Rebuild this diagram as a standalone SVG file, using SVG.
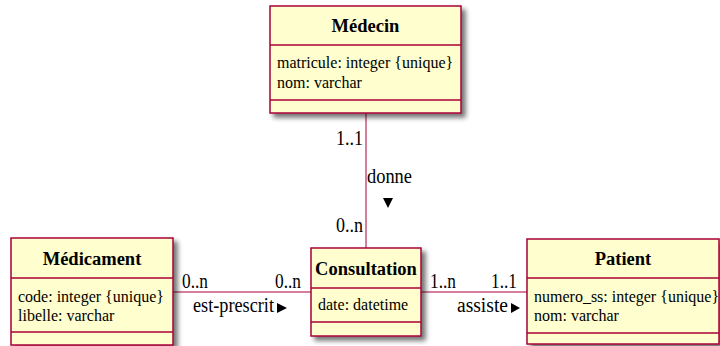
<svg xmlns="http://www.w3.org/2000/svg" width="720" height="346" viewBox="0 0 720 346">
  <defs>
    <filter id="shadow" x="-10%" y="-10%" width="130%" height="130%">
      <feGaussianBlur in="SourceAlpha" stdDeviation="2.5"/>
      <feOffset dx="4" dy="4" result="blur"/>
      <feComponentTransfer><feFuncA type="linear" slope="0.55"/></feComponentTransfer>
      <feMerge><feMergeNode/><feMergeNode in="SourceGraphic"/></feMerge>
    </filter>
    <style>
      .box { fill: #FEFECE; stroke: #A80036; stroke-width: 1.5; }
      .sep { stroke: #A80036; stroke-width: 1.5; }
      .title { font-family: "Liberation Serif", serif; font-weight: bold; font-size: 18.5px; fill: #000; text-anchor: middle; }
      .attr { font-family: "Liberation Serif", serif; font-size: 16px; fill: #000; }
      .lbl { font-family: "Liberation Serif", serif; font-size: 20px; fill: #000; }
      .link { stroke: #A80036; stroke-width: 1; fill: none; }
      .arrow { fill: #000; }
    </style>
  </defs>

  <!-- associations -->
  <g id="connectors">
    <line class="link" x1="366" y1="113" x2="366" y2="248"/>
    <line class="link" x1="173" y1="292" x2="311" y2="292"/>
    <line class="link" x1="421" y1="292" x2="527" y2="292"/>

    <text class="lbl" x="363" y="145" text-anchor="end" textLength="27" lengthAdjust="spacingAndGlyphs">1..1</text>
    <text class="lbl" x="367" y="183" textLength="45" lengthAdjust="spacingAndGlyphs">donne</text>
    <polygon class="arrow" points="383,198 393,198 388,208"/>
    <text class="lbl" x="363" y="232" text-anchor="end" textLength="27" lengthAdjust="spacingAndGlyphs">0..n</text>

    <text class="lbl" x="182" y="288" textLength="26" lengthAdjust="spacingAndGlyphs">0..n</text>
    <text class="lbl" x="301" y="288" text-anchor="end" textLength="26" lengthAdjust="spacingAndGlyphs">0..n</text>
    <text class="lbl" x="193" y="312" textLength="81" lengthAdjust="spacingAndGlyphs">est-prescrit</text>
    <polygon class="arrow" points="277,303 287,308 277,313"/>

    <text class="lbl" x="430" y="288" textLength="26" lengthAdjust="spacingAndGlyphs">1..n</text>
    <text class="lbl" x="517" y="288" text-anchor="end" textLength="26" lengthAdjust="spacingAndGlyphs">1..1</text>
    <text class="lbl" x="457" y="312" textLength="51" lengthAdjust="spacingAndGlyphs">assiste</text>
    <polygon class="arrow" points="511,303 520,308 511,313"/>
  </g>

  <g id="medecin">
    <rect class="box" x="270" y="6" width="191" height="107" filter="url(#shadow)"/>
    <text class="title" x="365.5" y="32">Médecin</text>
    <line class="sep" x1="270" y1="45" x2="461" y2="45"/>
    <text class="attr" x="277" y="68">matricule: integer {unique}</text>
    <text class="attr" x="277" y="88">nom: varchar</text>
    <line class="sep" x1="270" y1="100" x2="461" y2="100"/>
  </g>

  <g id="medicament">
    <rect class="box" x="11" y="238" width="162" height="107" filter="url(#shadow)"/>
    <text class="title" x="92" y="265">Médicament</text>
    <line class="sep" x1="11" y1="278" x2="173" y2="278"/>
    <text class="attr" x="18" y="302">code: integer {unique}</text>
    <text class="attr" x="18" y="321">libelle: varchar</text>
    <line class="sep" x1="11" y1="332" x2="173" y2="332"/>
  </g>

  <g id="consultation">
    <rect class="box" x="311" y="248" width="110" height="88" filter="url(#shadow)"/>
    <text class="title" x="366" y="275">Consultation</text>
    <line class="sep" x1="311" y1="288" x2="421" y2="288"/>
    <text class="attr" x="318" y="310">date: datetime</text>
    <line class="sep" x1="311" y1="322" x2="421" y2="322"/>
  </g>

  <g id="patient">
    <rect class="box" x="527" y="239" width="192" height="105" filter="url(#shadow)"/>
    <text class="title" x="623" y="265">Patient</text>
    <line class="sep" x1="527" y1="278" x2="719" y2="278"/>
    <text class="attr" x="534" y="302">numero_ss: integer {unique}</text>
    <text class="attr" x="534" y="321">nom: varchar</text>
    <line class="sep" x1="527" y1="333" x2="719" y2="333"/>
  </g>
</svg>
